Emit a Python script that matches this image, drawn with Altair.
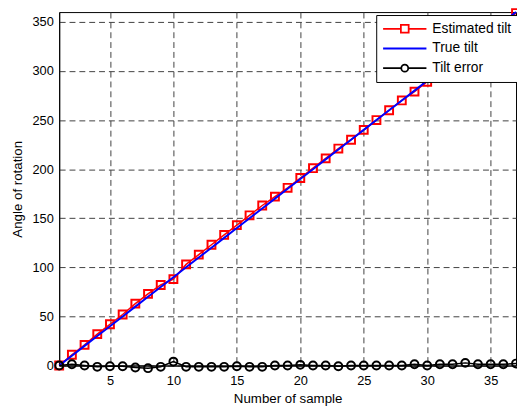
import altair as alt
import pandas as pd

samples = list(range(1, 38))
estimated = [0, 11, 21, 32, 42, 52, 63, 73, 82, 88, 103, 113, 123, 133, 143, 153, 163, 172, 181,
             191, 201, 211, 221, 230, 240, 250, 260, 270, 279, 289, 299, 309, 318, 329, 339, 349, 359]
true_tilt = [0, 10, 20, 30, 40, 50, 60, 70, 80, 90, 100, 110, 120, 130, 140, 150, 160, 170, 180,
             190, 200, 210, 220, 230, 240, 250, 260, 270, 280, 290, 300, 310, 320, 330, 340, 350, 360]
tilt_error = [0, 1.3, 0, -1.3, -0.7, -0.7, -2, -2.7, -1.3, 4, -1.3, -1.3, -1.3, -1.3, -0.7, -1.3, -1.3, 0, 0,
              0.7, 0, 0, -0.7, 0, 0, 0, 0, 0, 1.3, 0, 1.3, 1.3, 2.7, 1.3, 1.3, 1.3, 2]

series_names = ["Estimated tilt", "True tilt", "Tilt error"]
series_colors = ["#ff0000", "#0000ff", "#000000"]
x_ticks = [5, 10, 15, 20, 25, 30, 35]
y_ticks = [0, 50, 100, 150, 200, 250, 300, 350]

rows = []
for name, vals in zip(series_names, [estimated, true_tilt, tilt_error]):
    for s, v in zip(samples, vals):
        rows.append({"sample": s, "value": v, "series": name})
df = pd.DataFrame(rows)

FONT = "Liberation Sans"

x_enc = alt.X("sample:Q", scale=alt.Scale(domain=[1, 37], nice=False, zero=False),
              axis=alt.Axis(values=x_ticks, title="Number of sample"))
y_enc = alt.Y("value:Q", scale=alt.Scale(domain=[0, 360], nice=False),
              axis=alt.Axis(values=y_ticks, title="Angle of rotation"))

base = alt.Chart(df).encode(x=x_enc, y=y_enc)

est = base.transform_filter(alt.datum.series == "Estimated tilt")
tru = base.transform_filter(alt.datum.series == "True tilt")
err = base.transform_filter(alt.datum.series == "Tilt error")

est_line = est.mark_line(color="#ff0000", strokeWidth=1.5)
est_pts = est.mark_point(shape="square", filled=False, color="#ff0000", size=64, strokeWidth=2, opacity=1)
tru_line = tru.mark_line(color="#0000ff", strokeWidth=2)
err_line = err.mark_line(color="#000000", strokeWidth=1.5)
err_pts = err.mark_point(shape="circle", filled=False, color="#000000", size=64, strokeWidth=2, opacity=1)

sq = "M-1,0L-0.18,0M0.18,0L1,0M-0.18,-0.18L0.18,-0.18L0.18,0.18L-0.18,0.18Z"
ln = "M-1,0L1,0"
ci = "M-1,0L-0.16,0M0.16,0L1,0M-0.16,0A0.16,0.16 0 1,0 0.16,0A0.16,0.16 0 1,0 -0.16,0"

leg = alt.Legend(title=None, orient="none", legendX=322, legendY=3,
                 strokeColor="black", fillColor="white", padding=6, cornerRadius=0,
                 labelFont=FONT, labelFontSize=14, labelColor="black", labelOffset=5,
                 symbolSize=1936, symbolStrokeWidth=1.8, symbolOpacity=1,
                 symbolFillColor="transparent", clipHeight=16, rowPadding=4, symbolOffset=0)

legend_layer = base.mark_point(opacity=0, filled=False).encode(
    color=alt.Color("series:N", scale=alt.Scale(domain=series_names, range=series_colors), legend=leg),
    shape=alt.Shape("series:N", scale=alt.Scale(domain=series_names, range=[sq, ln, ci]), legend=leg),
)

chart = alt.layer(legend_layer, est_line, est_pts, tru_line, err_line, err_pts).properties(
    width=464, height=359,
    autosize="none",
    padding={"left": 52, "top": 1, "right": 1, "bottom": 40},
).configure_view(stroke="black", strokeWidth=1).configure_axis(
    labelFont=FONT, titleFont=FONT, labelFontSize=13, titleFontSize=13.5,
    labelColor="black", titleColor="black", titleFontWeight="normal",
    domainColor="black", domainWidth=1, ticks=False, tickSize=0,
    grid=True, gridColor="#404040", gridDash=[6, 4], gridWidth=1, gridOpacity=1,
).configure_axisY(titlePadding=8, labelPadding=6).configure_axisX(titlePadding=5, labelPadding=9)

chart.save("out.html", embed_options={"renderer": "svg", "actions": False})
